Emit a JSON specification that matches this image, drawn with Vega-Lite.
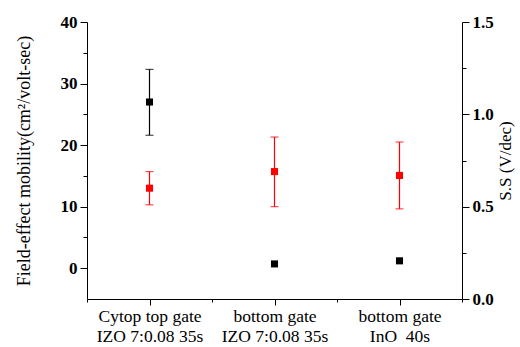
{
  "$schema": "https://vega.github.io/schema/vega-lite/v6.json",
  "width": 375,
  "height": 277,
  "autosize": "none",
  "padding": {"left": 87, "top": 22, "right": 58, "bottom": 48},
  "background": "white",
  "config": {
    "view": {"stroke": null},
    "font": "Liberation Serif, Times New Roman, serif",
    "axis": {
      "domainColor": "black", "tickColor": "black", "labelColor": "black", "titleColor": "black",
      "grid": false, "labelFont": "Liberation Serif, Times New Roman, serif", "titleFont": "Liberation Serif, Times New Roman, serif",
      "domainWidth": 1, "tickWidth": 1
    }
  },
  "data": {
    "values": [
      {"pos": 1, "mob": 27, "mob_lo": 21.6, "mob_hi": 32.3, "ss": 0.6, "ss_lo": 0.51, "ss_hi": 0.69},
      {"pos": 2, "mob": 0.7, "mob_lo": null, "mob_hi": null, "ss": 0.69, "ss_lo": 0.5, "ss_hi": 0.877},
      {"pos": 3, "mob": 1.2, "mob_lo": null, "mob_hi": null, "ss": 0.669, "ss_lo": 0.488, "ss_hi": 0.85}
    ]
  },
  "encoding": {
    "x": {
      "field": "pos", "type": "quantitative",
      "scale": {"domain": [0.5, 3.5], "nice": false, "zero": false},
      "axis": {
        "orient": "bottom",
        "values": [0.5, 1, 1.5, 2, 2.5, 3, 3.5],
        "labelExpr": "datum.value == 1 ? ['Cytop top gate','IZO 7:0.08 35s'] : datum.value == 2 ? ['bottom gate','IZO 7:0.08 35s'] : datum.value == 3 ? ['bottom gate','InO\u00a0\u00a040s'] : ''",
        "tickSize": {"condition": {"test": "datum.value % 1 === 0", "value": 6}, "value": 3},
        "labelFontSize": 17.5,
        "labelLineHeight": 20,
        "labelPadding": 2,
        "labelOverlap": false,
        "labelFlush": false,
        "labelBound": false,
        "title": null
      }
    }
  },
  "layer": [
    {
      "layer": [
        {
          "mark": {"type": "point", "shape": "square", "filled": true, "color": "black", "size": 50, "opacity": 1},
          "encoding": {
            "y": {
              "field": "mob", "type": "quantitative",
              "scale": {"domain": [-5, 40], "nice": false, "zero": false},
              "axis": {
                "orient": "left",
                "values": [0, 5, 10, 15, 20, 25, 30, 35, 40],
                "labelExpr": "datum.value % 10 === 0 ? datum.label : ''",
                "tickSize": {"condition": {"test": "datum.value % 10 === 0", "value": 7}, "value": 4},
                "labelFontSize": 17,
                "labelFontWeight": "bold",
                "labelPadding": 3,
                "title": "Field-effect mobility(cm²/volt-sec)",
                "titleFontSize": 18,
                "titleFontWeight": "normal",
                "titlePadding": 27
              }
            }
          }
        },
        {
          "transform": [{"filter": "datum.mob_lo != null"}],
          "mark": {"type": "errorbar", "ticks": true, "color": "black", "thickness": 1.2, "size": 8},
          "encoding": {
            "y": {
              "field": "mob_lo", "type": "quantitative",
              "scale": {"domain": [-5, 40], "nice": false, "zero": false},
              "axis": {
                "orient": "left",
                "values": [0, 5, 10, 15, 20, 25, 30, 35, 40],
                "labelExpr": "datum.value % 10 === 0 ? datum.label : ''",
                "tickSize": {"condition": {"test": "datum.value % 10 === 0", "value": 7}, "value": 4},
                "labelFontSize": 17,
                "labelFontWeight": "bold",
                "labelPadding": 3,
                "title": "Field-effect mobility(cm²/volt-sec)",
                "titleFontSize": 18,
                "titleFontWeight": "normal",
                "titlePadding": 27
              }
            },
            "y2": {"field": "mob_hi"}
          }
        }
      ]
    },
    {
      "layer": [
        {
          "mark": {"type": "point", "shape": "square", "filled": true, "color": "#ff0000", "size": 50, "opacity": 1},
          "encoding": {
            "y": {
              "field": "ss", "type": "quantitative",
              "scale": {"domain": [0, 1.5], "nice": false, "zero": false},
              "axis": {
                "orient": "right",
                "values": [0, 0.25, 0.5, 0.75, 1, 1.25, 1.5],
                "labelExpr": "datum.value % 0.5 === 0 ? format(datum.value, '.1f') : ''",
                "tickSize": {"condition": {"test": "datum.value % 0.5 === 0", "value": 7}, "value": 4},
                "labelFontSize": 17,
                "labelFontWeight": "bold",
                "labelPadding": 3,
                "title": "S.S (V/dec)",
                "titleFontSize": 17,
                "titleFontWeight": "normal",
                "titleAngle": 270,
                "titlePadding": 21
              }
            }
          }
        },
        {
          "mark": {"type": "errorbar", "ticks": true, "color": "#ff0000", "thickness": 1.2, "size": 8},
          "encoding": {
            "y": {
              "field": "ss_lo", "type": "quantitative",
              "scale": {"domain": [0, 1.5], "nice": false, "zero": false},
              "axis": {
                "orient": "right",
                "values": [0, 0.25, 0.5, 0.75, 1, 1.25, 1.5],
                "labelExpr": "datum.value % 0.5 === 0 ? format(datum.value, '.1f') : ''",
                "tickSize": {"condition": {"test": "datum.value % 0.5 === 0", "value": 7}, "value": 4},
                "labelFontSize": 17,
                "labelFontWeight": "bold",
                "labelPadding": 3,
                "title": "S.S (V/dec)",
                "titleFontSize": 17,
                "titleFontWeight": "normal",
                "titleAngle": 270,
                "titlePadding": 21
              }
            },
            "y2": {"field": "ss_hi"}
          }
        }
      ]
    }
  ],
  "resolve": {"scale": {"y": "independent"}}
}
